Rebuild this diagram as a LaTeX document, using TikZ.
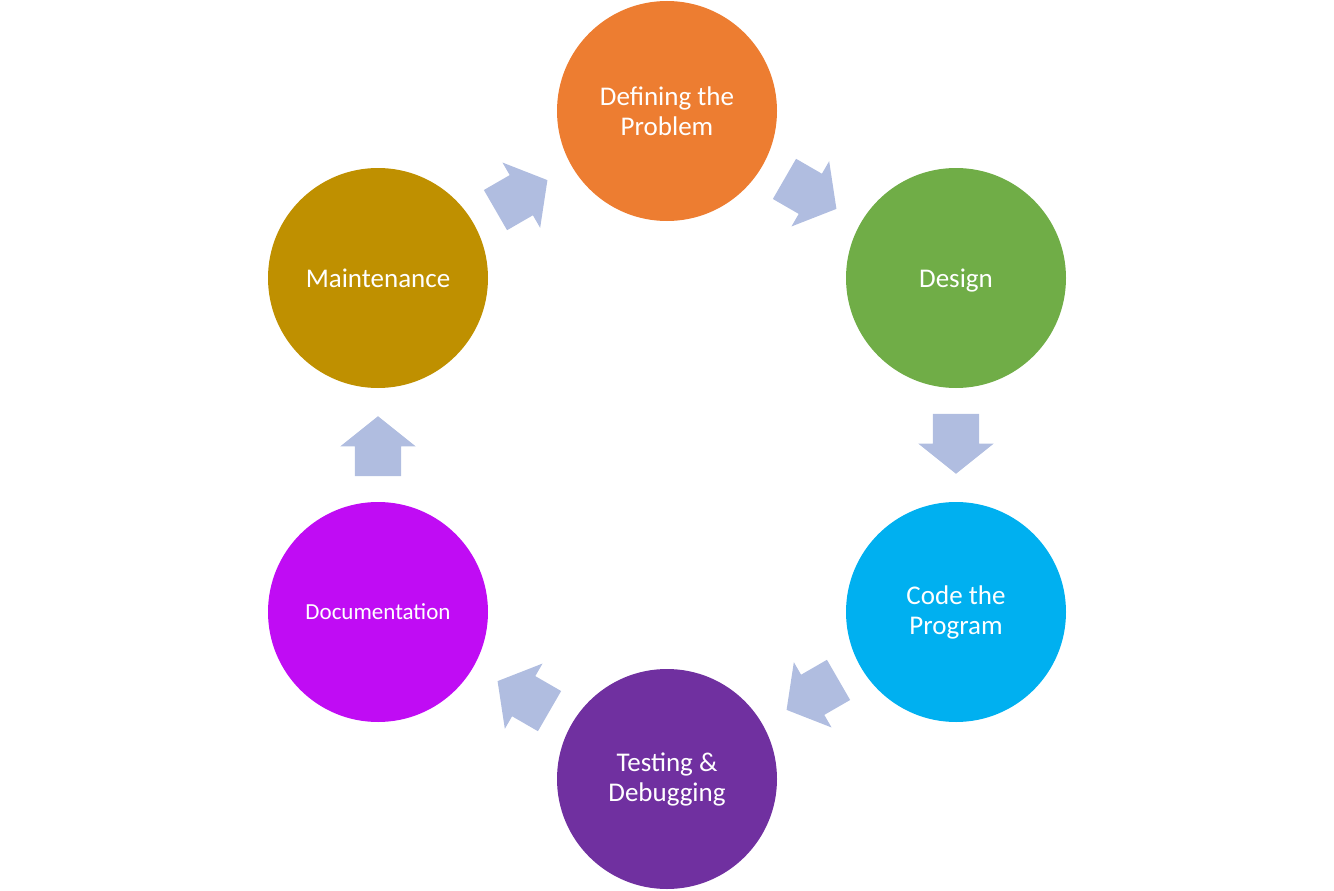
\documentclass[tikz,border=0pt]{standalone}
\usepackage{fontspec}
\setmainfont{Carlito}
\usetikzlibrary{shapes.arrows,calc}
\definecolor{cOrange}{HTML}{ED7D31}
\definecolor{cGreen}{HTML}{70AD47}
\definecolor{cCyan}{HTML}{00B0F0}
\definecolor{cPurple}{HTML}{7030A0}
\definecolor{cMagenta}{HTML}{C00CF4}
\definecolor{cGold}{HTML}{BF9000}
\definecolor{cArrow}{HTML}{B0BDE0}
\tikzset{
  stage/.style={circle, minimum size=220pt, inner sep=0pt, text=white, align=center,
    font=\fontsize{27}{30}\selectfont},
  flowarrow/.style={single arrow, fill=cArrow, draw=none, inner xsep=0pt, inner ysep=23pt,
    minimum height=60pt, single arrow head extend=14.5pt, single arrow tip angle=102.7,
    single arrow head indent=0pt}
}
\begin{document}
\begin{tikzpicture}[x=1pt,y=-1pt]
\useasboundingbox (0,0) rectangle (1334,891);
\node[stage, fill=cOrange] (def) at (667,111) {Defining the\\Problem};
\node[stage, fill=cGreen, text depth=0pt] (des) at (956,278) {Design};
\node[stage, fill=cCyan] (code) at (956,612) {Code the\\Program};
\node[stage, fill=cPurple] (test) at (667,779) {Testing \&\\Debugging};
\node[stage, fill=cMagenta, font=\fontsize{23}{28}\selectfont] (doc) at (378,612) {Documentation};
\node[stage, fill=cGold] (main) at (378,278) {Maintenance};
\node[flowarrow, rotate=30] (a1) at ($(main)!0.5!(def)!10.5pt!(main)$) {};
\node[flowarrow, rotate=-30] (a2) at ($(def)!0.5!(des)!10.5pt!(def)$) {};
\node[flowarrow, rotate=-90] (a3) at ($(des)!0.5!(code)!10.5pt!(des)$) {};
\node[flowarrow, rotate=210] (a4) at ($(code)!0.5!(test)!10.5pt!(code)$) {};
\node[flowarrow, rotate=150] (a5) at ($(test)!0.5!(doc)!10.5pt!(test)$) {};
\node[flowarrow, rotate=90] (a6) at ($(doc)!0.5!(main)!10.5pt!(doc)$) {};
\end{tikzpicture}
\end{document}
